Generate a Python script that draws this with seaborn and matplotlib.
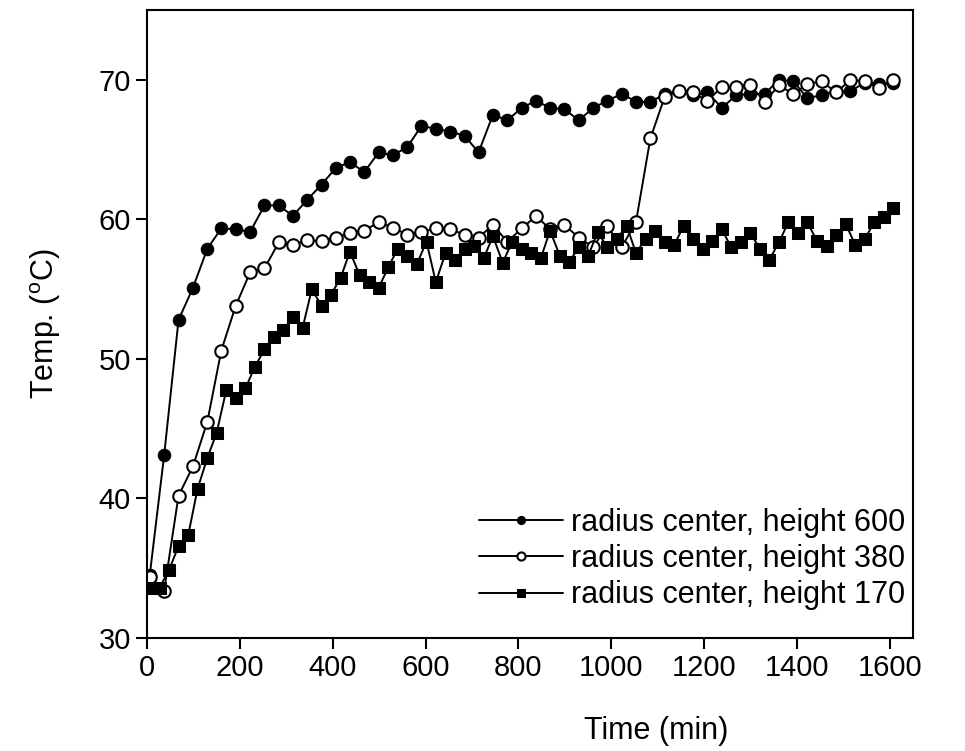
import matplotlib
matplotlib.use("Agg")
import matplotlib.pyplot as plt
import seaborn as sns
import pandas as pd

# ---- data ----
time_30 = [6, 37, 68, 99, 130, 160, 191, 222, 253, 284, 314, 345, 376, 407, 437,
           468, 499, 530, 561, 591, 622, 653, 684, 714, 745, 776, 807, 838, 868,
           899, 930, 961, 991, 1022, 1053, 1084, 1115, 1145, 1176, 1207, 1238,
           1269, 1299, 1330, 1361, 1392, 1422, 1453, 1484, 1515, 1546, 1576, 1607]

temp_h600 = [34.5, 43.1, 52.8, 55.1, 57.9, 59.35, 59.3, 59.1, 61.0, 61.0, 60.25,
             61.4, 62.5, 63.7, 64.1, 63.4, 64.8, 64.6, 65.2, 66.7, 66.5, 66.3,
             66.0, 64.8, 67.5, 67.1, 68.0, 68.5, 68.0, 67.9, 67.1, 68.0, 68.5,
             69.0, 68.45, 68.4, 69.0, 69.2, 68.9, 69.1, 68.0, 68.9, 69.0, 69.0,
             70.0, 69.9, 68.7, 68.9, 69.2, 69.2, 69.8, 69.7, 69.8]

temp_h380 = [34.4, 33.4, 40.2, 42.3, 45.5, 50.6, 53.8, 56.2, 56.5, 58.35, 58.2,
             58.5, 58.45, 58.7, 59.0, 59.2, 59.8, 59.4, 58.9, 59.1, 59.35, 59.3,
             58.9, 58.7, 59.6, 58.4, 59.35, 60.25, 59.3, 59.6, 58.7, 58.0, 59.55,
             58.0, 59.8, 65.8, 68.8, 69.2, 69.1, 68.5, 69.5, 69.5, 69.6, 68.45,
             69.6, 69.0, 69.7, 69.9, 69.1, 70.0, 69.9, 69.4, 70.0]

time_20 = [6, 27, 48, 68, 89, 109, 130, 150, 171, 191, 212, 232, 253, 273, 294,
           314, 335, 355, 376, 396, 417, 437, 458, 478, 499, 520, 540, 561, 581,
           602, 622, 643, 663, 684, 704, 725, 745, 766, 786, 807, 827, 848, 868,
           889, 909, 930, 950, 971, 991, 1012, 1033, 1053, 1074, 1094, 1115,
           1135, 1156, 1176, 1197, 1217, 1238, 1258, 1279, 1299, 1320, 1340,
           1361, 1381, 1402, 1422, 1443, 1464, 1484, 1505, 1525, 1546, 1566,
           1587, 1607]

temp_h170 = [33.6, 33.6, 34.9, 36.6, 37.4, 40.7, 42.9, 44.7, 47.8, 47.2, 47.9,
             49.4, 50.7, 51.6, 52.1, 53.0, 52.2, 55.0, 53.8, 54.6, 55.8, 57.7,
             56.0, 55.5, 55.1, 56.6, 57.9, 57.4, 56.8, 58.4, 55.5, 57.6, 57.1,
             57.9, 58.1, 57.2, 58.8, 56.9, 58.35, 57.9, 57.6, 57.2, 59.2, 57.4,
             56.95, 58.0, 57.4, 59.1, 58.0, 58.6, 59.55, 57.6, 58.6, 59.2, 58.4,
             58.15, 59.55, 58.6, 57.9, 58.45, 59.3, 58.0, 58.35, 59.05, 57.9,
             57.1, 58.35, 59.8, 59.05, 59.8, 58.45, 58.1, 58.9, 59.65, 58.2,
             58.6, 59.8, 60.2, 60.8]

labels = ["radius center, height 600",
          "radius center, height 380",
          "radius center, height 170"]

x_ticks = [0, 200, 400, 600, 800, 1000, 1200, 1400, 1600]
y_ticks = [30, 40, 50, 60, 70]

# ---- styling ----
sns.set_theme(style="ticks")
plt.rcParams["font.family"] = ["Liberation Sans", "DejaVu Sans"]
plt.rcParams["mathtext.fontset"] = "custom"
plt.rcParams["mathtext.rm"] = "Liberation Sans"
plt.rcParams["text.color"] = "black"
plt.rcParams["axes.labelcolor"] = "black"

fig = plt.figure(figsize=(9.65, 7.51), dpi=100)
ax = fig.add_axes([0.1523, 0.1505, 0.794, 0.836])

df600 = pd.DataFrame({"time": time_30, "temp": temp_h600})
df380 = pd.DataFrame({"time": time_30, "temp": temp_h380})
df170 = pd.DataFrame({"time": time_20, "temp": temp_h170})

common = dict(x="time", y="temp", ax=ax, color="black", linewidth=1.4,
              estimator=None, sort=False)
sns.lineplot(data=df600, marker="o", markersize=9, markerfacecolor="black",
             markeredgecolor="black", label=labels[0], **common)
sns.lineplot(data=df380, marker="o", markersize=9, markerfacecolor="white",
             markeredgecolor="black", markeredgewidth=1.5, label=labels[1], **common)
sns.lineplot(data=df170, marker="s", markersize=8.5, markerfacecolor="black",
             markeredgecolor="black", label=labels[2], **common)

ax.set_xlim(0, 1650)
ax.set_ylim(30, 75)
ax.set_xticks(x_ticks)
ax.set_yticks(y_ticks)
ax.tick_params(axis="both", labelsize=21, length=8, width=1.5, direction="out",
               colors="black", labelcolor="black")
for s in ax.spines.values():
    s.set_linewidth(1.5)
    s.set_color("black")

ax.set_xlabel("Time (min)", fontsize=22, color="black")
ax.xaxis.set_label_coords(0.665, -0.125)
ax.set_ylabel(r"Temp. ($\mathregular{^o}$C)", fontsize=22, color="black",
              labelpad=26)

leg = ax.legend(loc="lower right", bbox_to_anchor=(1.013, 0.015), frameon=False,
                fontsize=22, handlelength=2.75, handletextpad=0.25,
                labelspacing=0.2, markerscale=0.65, borderaxespad=0.2)
for t in leg.get_texts():
    t.set_color("black")

fig.savefig("out.png", dpi=100)
